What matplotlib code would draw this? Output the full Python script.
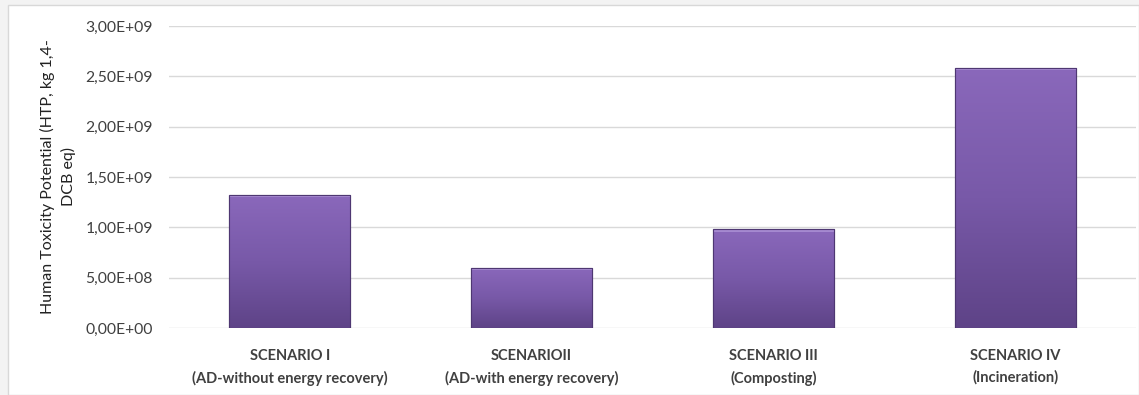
import numpy as np
import matplotlib.pyplot as plt
from matplotlib.patches import Rectangle
from matplotlib.ticker import FuncFormatter
from matplotlib.colors import LinearSegmentedColormap

plt.rcParams['font.family'] = ['Lato', 'DejaVu Sans']

# HTP per scenario
scenarios = ["SCENARIO I\n(AD-without energy recovery)",
             "SCENARIOII\n(AD-with energy recovery)",
             "SCENARIO III\n(Composting)",
             "SCENARIO IV\n(Incineration)"]
htp = [1.32e9, 6.0e8, 9.8e8, 2.58e9]
yticks = [0, 5e8, 1e9, 1.5e9, 2e9, 2.5e9, 3e9]

fig = plt.figure(figsize=(11.39, 3.95), dpi=100)
fig.patch.set_facecolor("#f3f3f3")
# white chart area with thin border
fig.add_artist(Rectangle((8 / 1139, 0), 1 - 8 / 1139, 1 - 5 / 395,
                         transform=fig.transFigure, facecolor="white",
                         edgecolor="#d8d8d8", lw=1, zorder=0))

ax = fig.add_axes([169 / 1139, 1 - 328 / 395, (1136 - 169) / 1139, (328 - 26) / 395])
ax.set_facecolor("none")

x = np.arange(len(scenarios))
bars = ax.bar(x, htp, width=0.5, color="#7556a3", edgecolor="#4e3772", lw=0.8, zorder=3)

# vertical gradient inside each bar
grad = LinearSegmentedColormap.from_list("purp", ["#5e4387", "#7859a8", "#8a68bb"])
for b in bars:
    x0, w, h = b.get_x(), b.get_width(), b.get_height()
    img = ax.imshow(np.linspace(0, 1, 256).reshape(-1, 1), cmap=grad, origin="lower",
                    extent=[x0, x0 + w, 0, h], aspect="auto", zorder=3.5)
    img.set_clip_path(b)
    # light bevel along the top edge
    ax.add_patch(Rectangle((x0, h - 2.2e7), w, 2.2e7, facecolor="#a589d0",
                           edgecolor="none", zorder=4))
    ax.add_patch(Rectangle((x0, 0), w, h, facecolor="none", edgecolor="#4e3772",
                           lw=0.8, zorder=5))

ax.set_xlim(-0.5, len(scenarios) - 0.5)
ax.set_ylim(0, 3e9)
ax.set_yticks(yticks)
ax.yaxis.set_major_formatter(FuncFormatter(
    lambda v, p: ("%.2E" % v).replace(".", ",")))
ax.set_xticks(x)
ax.set_xticklabels(scenarios, fontsize=10.5, fontweight="bold", color="#222222",
                   linespacing=1.65)
ax.tick_params(axis="both", length=0, colors="#404040")
ax.tick_params(axis="y", labelsize=11.3, pad=11.5)
ax.tick_params(axis="x", pad=15)
ax.grid(axis="y", color="#d9d9d9", lw=1, zorder=0)
ax.set_axisbelow(True)
for s in ax.spines.values():
    s.set_visible(False)

ax.set_ylabel("Human Toxicity Potential (HTP, kg 1,4-\nDCB eq)", fontsize=11.5,
              color="#222222", linespacing=1.5)
ax.yaxis.set_label_coords(-93 / 967, 0.5)

fig.savefig("out.png", dpi=100)
